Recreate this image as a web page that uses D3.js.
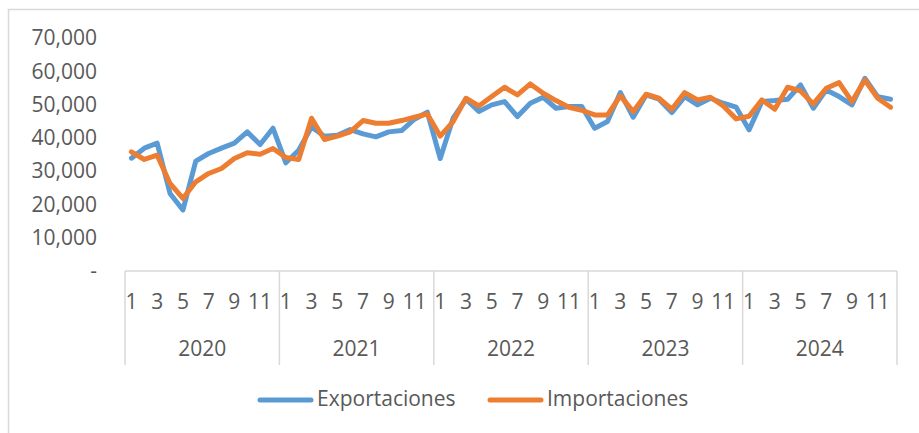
<!DOCTYPE html>
<html>
<head>
<meta charset="utf-8">
<script src="https://cdn.jsdelivr.net/npm/d3@7"></script>
<style>
    body { margin: 0; background: #fff; }
    text { font-family: "Open Sans", sans-serif; fill: #595959; }
</style>
</head>
<body>
<div id="chart"></div>
<script>
const years = [2020, 2021, 2022, 2023, 2024];
const months = [1, 2, 3, 4, 5, 6, 7, 8, 9, 10, 11, 12];
const yTicks = [0, 10000, 20000, 30000, 40000, 50000, 60000, 70000];

const exportaciones = [
    33900, 36900, 38400, 23300, 18300, 33000, 35300, 36900, 38400, 41800, 38000, 42900,
    32500, 36300, 43300, 40500, 40800, 42500, 41200, 40300, 41800, 42200, 45600, 47700,
    33800, 45900, 51600, 47900, 49900, 50900, 46400, 50400, 52200, 48900, 49400, 49400,
    42900, 44900, 53600, 46200, 52900, 51600, 47600, 52400, 49900, 51900, 50400, 49200,
    42400, 50900, 51200, 51600, 55900, 48900, 54400, 52400, 49900, 57900, 52400, 51600
];
const importaciones = [
    35800, 33500, 34800, 26300, 21800, 26800, 29300, 30800, 33800, 35500, 35100, 36800,
    34100, 33500, 45900, 39500, 40500, 41800, 45200, 44400, 44400, 45200, 46200, 47200,
    40500, 44900, 51900, 49600, 52400, 55200, 52900, 56200, 53400, 51200, 49200, 48300,
    46900, 46900, 52600, 47900, 53100, 51900, 48600, 53600, 51400, 52200, 49600, 45700,
    46500, 51400, 48600, 55200, 54100, 50200, 54900, 56600, 50900, 57400, 51900, 49200
];

const series = [
    { name: "Exportaciones", values: exportaciones, color: "#5B9BD5" },
    { name: "Importaciones", values: importaciones, color: "#ED7D31" }
];

window.onload = () => {
    const w = 919, h = 433;
    const padL = 125, padR = 897, padT = 38, padB = 271;

    // one slot per month, year/month pairs
    const slots = [];
    years.forEach(yr => months.forEach(m => slots.push({ year: yr, month: m, key: yr + "-" + m })));

    const x = d3.scaleBand().domain(slots.map(d => d.key)).range([padL, padR]);
    const xYear = d3.scaleBand().domain(years).range([padL, padR]);
    const y = d3.scaleLinear().domain([0, 70000]).range([padB, padT]);

    const svg = d3.select("#chart").append("svg")
        .attr("width", w)
        .attr("height", h);

    // chart border
    svg.append("rect")
        .attr("x", 8.5).attr("y", 9.5)
        .attr("width", 1000).attr("height", 1000)
        .attr("fill", "none")
        .attr("stroke", "#d9d9d9")
        .attr("stroke-width", 1.5);

    // y axis, labels only
    const fmt = d3.format(",");
    const yAxis = d3.axisLeft(y)
        .tickValues(yTicks)
        .tickSize(0)
        .tickPadding(0)
        .tickFormat(d => d === 0 ? "-" : fmt(d));

    svg.append("g")
        .attr("transform", "translate(97,0)")
        .call(yAxis)
        .call(g => g.select(".domain").remove())
        .call(g => g.selectAll("text")
            .style("font-family", "'Open Sans', sans-serif")
            .attr("font-size", 21)
            .attr("fill", "#595959"));

    // multi-level category axis
    const axisG = svg.append("g");
    axisG.append("line")
        .attr("x1", padL).attr("x2", padR)
        .attr("y1", padB).attr("y2", padB)
        .attr("stroke", "#d9d9d9").attr("stroke-width", 1.5);

    axisG.selectAll(".sep")
        .data(years.concat(["end"]))
        .join("line")
        .attr("class", "sep")
        .attr("x1", d => d === "end" ? padR : xYear(d))
        .attr("x2", d => d === "end" ? padR : xYear(d))
        .attr("y1", padB).attr("y2", 365)
        .attr("stroke", "#d9d9d9").attr("stroke-width", 1.5);

    const xAxis = d3.axisBottom(x)
        .tickSize(0)
        .tickPadding(0)
        .tickFormat(k => {
            const m = +k.split("-")[1];
            return m % 2 === 1 ? m : "";
        });

    svg.append("g")
        .attr("transform", "translate(0," + padB + ")")
        .call(xAxis)
        .call(g => g.select(".domain").remove())
        .call(g => g.selectAll("text")
            .attr("dy", null)
            .attr("y", 32)
            .style("font-family", "'Open Sans', sans-serif")
            .attr("font-size", 21)
            .attr("fill", "#595959")
            .attr("dominant-baseline", "middle"));

    const yearAxis = d3.axisBottom(xYear).tickSize(0).tickPadding(0);
    svg.append("g")
        .attr("transform", "translate(0," + padB + ")")
        .call(yearAxis)
        .call(g => g.select(".domain").remove())
        .call(g => g.selectAll("text")
            .attr("dy", null)
            .attr("y", 79)
            .style("font-family", "'Open Sans', sans-serif")
            .attr("font-size", 21)
            .attr("fill", "#595959")
            .attr("dominant-baseline", "middle"));

    // lines
    const line = d3.line()
        .x((d, i) => x(slots[i].key) + x.bandwidth() / 2)
        .y(d => y(d));

    svg.selectAll(".series")
        .data(series)
        .join("path")
        .attr("class", "series")
        .attr("d", d => line(d.values))
        .attr("fill", "none")
        .attr("stroke", d => d.color)
        .attr("stroke-width", 5)
        .attr("stroke-linejoin", "round")
        .attr("stroke-linecap", "round");

    // legend
    const legendPos = [258, 488];
    const legend = svg.selectAll(".legend")
        .data(series)
        .join("g")
        .attr("class", "legend")
        .attr("transform", (d, i) => "translate(" + legendPos[i] + ",400)");

    legend.append("line")
        .attr("x1", 2).attr("x2", 53)
        .attr("stroke", d => d.color)
        .attr("stroke-width", 5)
        .attr("stroke-linecap", "round");

    legend.append("text")
        .attr("x", 59)
        .attr("dominant-baseline", "middle")
        .attr("font-size", 21)
        .text(d => d.name);
};
</script>
</body>
</html>
